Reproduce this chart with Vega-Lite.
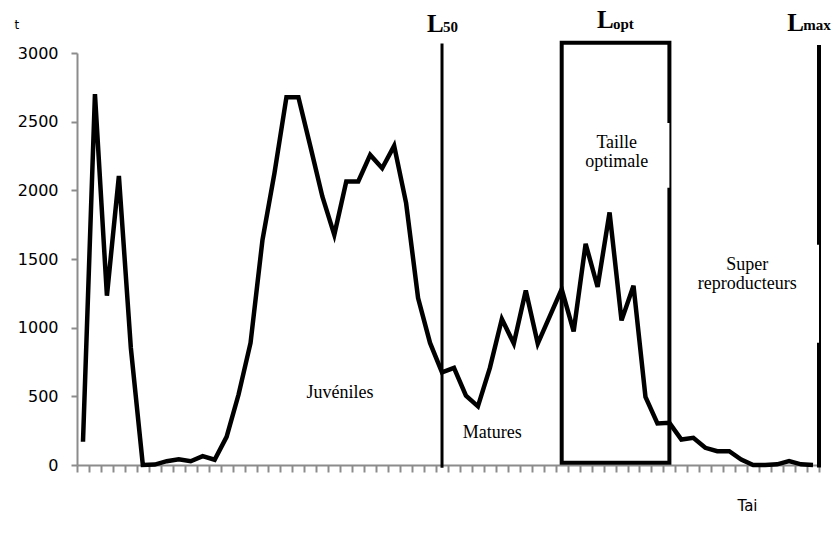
{
  "$schema": "https://vega.github.io/schema/vega-lite/v6.json",
  "width": 742,
  "height": 412,
  "autosize": {"type": "none"},
  "padding": {"left": 77, "top": 53, "right": 14, "bottom": 72},
  "background": "white",
  "config": {"view": {"stroke": null}},
  "datasets": {
    "series": [
      {"i": 0, "t": 169}, {"i": 1, "t": 2700}, {"i": 2, "t": 1233}, {"i": 3, "t": 2105},
      {"i": 4, "t": 852}, {"i": 5, "t": 0}, {"i": 6, "t": 3}, {"i": 7, "t": 28},
      {"i": 8, "t": 41}, {"i": 9, "t": 27}, {"i": 10, "t": 64}, {"i": 11, "t": 38},
      {"i": 12, "t": 205}, {"i": 13, "t": 513}, {"i": 14, "t": 889}, {"i": 15, "t": 1640},
      {"i": 16, "t": 2125}, {"i": 17, "t": 2678}, {"i": 18, "t": 2678}, {"i": 19, "t": 2320},
      {"i": 20, "t": 1955}, {"i": 21, "t": 1676}, {"i": 22, "t": 2064}, {"i": 23, "t": 2064},
      {"i": 24, "t": 2258}, {"i": 25, "t": 2161}, {"i": 26, "t": 2324}, {"i": 27, "t": 1907},
      {"i": 28, "t": 1216}, {"i": 29, "t": 889}, {"i": 30, "t": 675}, {"i": 31, "t": 707},
      {"i": 32, "t": 505}, {"i": 33, "t": 427}, {"i": 34, "t": 707}, {"i": 35, "t": 1063},
      {"i": 36, "t": 884}, {"i": 37, "t": 1271}, {"i": 38, "t": 884}, {"i": 39, "t": 1082},
      {"i": 40, "t": 1281}, {"i": 41, "t": 973}, {"i": 42, "t": 1611}, {"i": 43, "t": 1296},
      {"i": 44, "t": 1839}, {"i": 45, "t": 1053}, {"i": 46, "t": 1305}, {"i": 47, "t": 496},
      {"i": 48, "t": 302}, {"i": 49, "t": 307}, {"i": 50, "t": 185}, {"i": 51, "t": 198},
      {"i": 52, "t": 125}, {"i": 53, "t": 100}, {"i": 54, "t": 100}, {"i": 55, "t": 40},
      {"i": 56, "t": 0}, {"i": 57, "t": 0}, {"i": 58, "t": 5}, {"i": 59, "t": 28},
      {"i": 60, "t": 5}, {"i": 61, "t": 0}
    ],
    "limits": [
      {"name": "L", "sub": "50", "x": 28.74, "ly": 3155, "sy": 3150},
      {"name": "L", "sub": "opt", "x": 42.95, "ly": 3180, "sy": 3178},
      {"name": "L", "sub": "max", "x": 58.85, "ly": 3162, "sy": 3166}
    ],
    "boxes": [
      {"x": 46, "x2": 49, "y": 2018, "y2": 2490},
      {"x": 52.5, "x2": 61.5, "y": 891, "y2": 1604}
    ],
    "notes": [
      {"label": ["Juvéniles"], "x": 21.47, "y": 491},
      {"label": ["Matures"], "x": 34.2, "y": 200},
      {"label": ["Taille", "optimale"], "x": 44.6, "y": 2309},
      {"label": ["Super", "reproducteurs"], "x": 55.5, "y": 1418}
    ]
  },
  "layer": [
    {
      "data": {"name": "series"},
      "mark": {"type": "line", "color": "black", "strokeWidth": 4.5, "strokeJoin": "miter"},
      "encoding": {
        "x": {
          "field": "i", "type": "quantitative",
          "scale": {"domain": [-0.5, 61.5], "nice": false, "zero": false},
          "axis": {
            "values": [-0.5, 0.5, 1.5, 2.5, 3.5, 4.5, 5.5, 6.5, 7.5, 8.5, 9.5, 10.5, 11.5, 12.5, 13.5, 14.5, 15.5, 16.5, 17.5, 18.5, 19.5, 20.5, 21.5, 22.5, 23.5, 24.5, 25.5, 26.5, 27.5, 28.5, 29.5, 30.5, 31.5, 32.5, 33.5, 34.5, 35.5, 36.5, 37.5, 38.5, 39.5, 40.5, 41.5, 42.5, 43.5, 44.5, 45.5, 46.5, 47.5, 48.5, 49.5, 50.5, 51.5, 52.5, 53.5, 54.5, 55.5, 56.5, 57.5, 58.5, 59.5, 60.5, 61.5],
            "tickCount": 200,
            "labels": false,
            "grid": false,
            "domainColor": "#8c8c8c",
            "domainWidth": 2,
            "tickColor": "#8c8c8c",
            "tickWidth": 2,
            "tickSize": 7,
            "title": "Tai",
            "titleFont": "DejaVu Sans",
            "titleFontSize": 15,
            "titleFontWeight": "normal",
            "titleColor": "black",
            "titleAlign": "left",
            "titleAnchor": "start",
            "titleX": 660,
            "titleY": 45,
            "titleBaseline": "alphabetic"
          }
        },
        "y": {
          "field": "t", "type": "quantitative",
          "scale": {"domain": [0, 3000], "nice": false},
          "axis": {
            "values": [0, 500, 1000, 1500, 2000, 2500, 3000],
            "format": "d",
            "grid": false,
            "domainColor": "#8c8c8c",
            "domainWidth": 2,
            "tickColor": "#8c8c8c",
            "tickWidth": 2,
            "tickSize": 6,
            "labelPadding": 13,
            "labelFont": "DejaVu Sans",
            "labelFontSize": 16,
            "labelColor": "black",
            "title": "t",
            "titleFont": "DejaVu Sans",
            "titleFontSize": 12,
            "titleFontWeight": "normal",
            "titleColor": "black",
            "titleAngle": 0,
            "titleAlign": "left",
            "titleBaseline": "alphabetic",
            "titleX": -63,
            "titleY": -25
          }
        }
      }
    },
    {
      "data": {"values": [{"x": 40, "x2": 49, "y": 16, "y2": 3075}]},
      "mark": {"type": "rect", "fill": null, "fillOpacity": 0, "stroke": "black", "strokeWidth": 4},
      "encoding": {
        "x": {"field": "x", "type": "quantitative"},
        "x2": {"field": "x2"},
        "y": {"field": "y", "type": "quantitative"},
        "y2": {"field": "y2"}
      }
    },
    {
      "data": {"values": [{"x": 30, "y": -20, "y2": 3070}]},
      "mark": {"type": "rule", "color": "black", "strokeWidth": 3},
      "encoding": {
        "x": {"field": "x", "type": "quantitative"},
        "y": {"field": "y", "type": "quantitative"},
        "y2": {"field": "y2"}
      }
    },
    {
      "data": {"values": [{"x": 61.5, "y": -18, "y2": 3058}]},
      "mark": {"type": "rule", "color": "black", "strokeWidth": 4},
      "encoding": {
        "x": {"field": "x", "type": "quantitative"},
        "y": {"field": "y", "type": "quantitative"},
        "y2": {"field": "y2"}
      }
    },
    {
      "data": {"name": "boxes"},
      "mark": {"type": "rect", "fill": "white", "strokeWidth": 0},
      "encoding": {
        "x": {"field": "x", "type": "quantitative"},
        "x2": {"field": "x2"},
        "y": {"field": "y", "type": "quantitative"},
        "y2": {"field": "y2"}
      }
    },
    {
      "data": {"name": "limits"},
      "mark": {"type": "text", "font": "Liberation Serif", "fontWeight": "bold", "fontSize": 25, "align": "left", "baseline": "alphabetic", "color": "black"},
      "encoding": {
        "x": {"field": "x", "type": "quantitative"},
        "y": {"field": "ly", "type": "quantitative"},
        "text": {"field": "name"}
      }
    },
    {
      "data": {"name": "limits"},
      "mark": {"type": "text", "font": "Liberation Serif", "fontWeight": "bold", "fontSize": 15, "align": "left", "baseline": "alphabetic", "dx": 16, "color": "black"},
      "encoding": {
        "x": {"field": "x", "type": "quantitative"},
        "y": {"field": "sy", "type": "quantitative"},
        "text": {"field": "sub"}
      }
    },
    {
      "data": {"name": "notes"},
      "mark": {"type": "text", "font": "Liberation Serif", "fontSize": 18, "align": "center", "baseline": "alphabetic", "lineHeight": 19, "color": "black"},
      "encoding": {
        "x": {"field": "x", "type": "quantitative"},
        "y": {"field": "y", "type": "quantitative"},
        "text": {"field": "label"}
      }
    }
  ]
}
